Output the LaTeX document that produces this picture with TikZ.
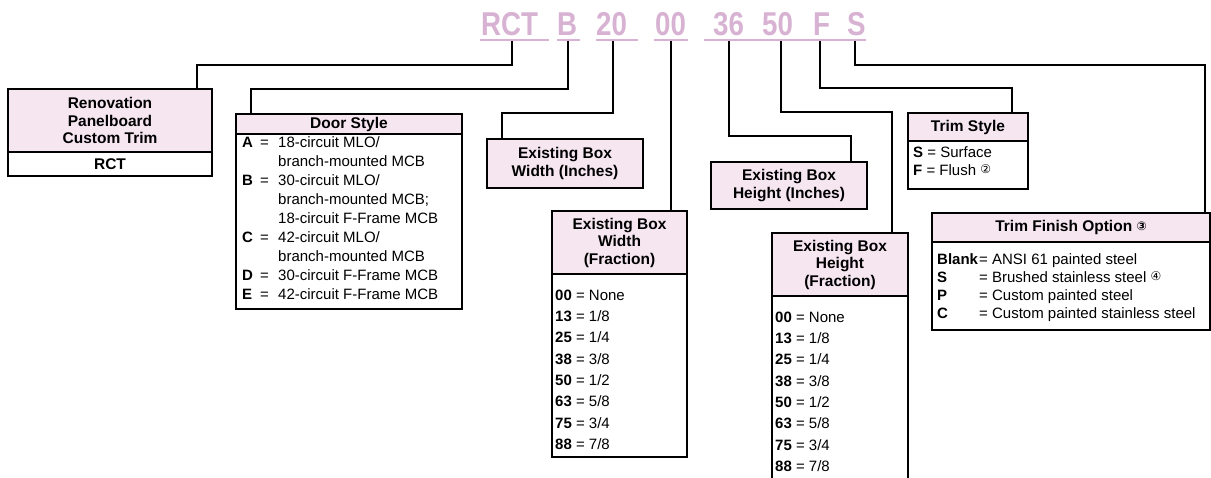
\documentclass[tikz,border=0pt]{standalone}
\usepackage{fontspec}
\setmainfont{Liberation Sans}
\newfontfamily\codefont{Liberation Sans}[FakeStretch=0.84]
\newfontfamily\dvfont{DejaVu Sans}
\definecolor{hdrpink}{RGB}{246,230,240}
\definecolor{codepink}{RGB}{216,178,210}
\newcommand\cnum[1]{\raisebox{1.5pt}{\dvfont\fontsize{12}{12}\selectfont #1}}
\newcommand\dk[1]{\makebox[18pt][l]{\bfseries #1}}
\newcommand\deq{\makebox[18pt][l]{=}}
\newcommand\dind{\hspace*{36pt}}
\newcommand\fk[1]{\makebox[42pt][l]{\bfseries #1}}
\begin{document}
\begin{tikzpicture}[x=1pt,y=-1pt,
  codetxt/.style={anchor=base west, inner sep=0pt, text=codepink, font=\codefont\bfseries\fontsize{33}{33}\selectfont},
  uline/.style={draw=codepink, line width=2pt},
  conn/.style={line width=2pt},
  hbox/.style={draw, line width=1.2pt, fill=hdrpink, anchor=north west, inner sep=0pt, outer sep=0pt, align=center, font=\fontsize{15.5}{17.5}\selectfont\bfseries},
  bbox/.style={draw, line width=1.2pt, fill=white, anchor=north west, inner sep=0pt, outer sep=0pt, font=\fontsize{15.5}{17.5}\selectfont\bfseries},
  listtxt/.style={anchor=base west, inner sep=0pt}]
\clip (0,0) rectangle (1211,478);
\fill[white] (0,0) rectangle (1211,478);

% code letters
\node[codetxt] (cRCT) at (481,36) {RCT};
\node[codetxt] (cB) at (557,36) {B};
\node[codetxt] (c20) at (596,36) {20};
\node[codetxt] (c00) at (655,36) {00};
\node[codetxt] (c36) at (713,36) {36};
\node[codetxt] (c50) at (762,36) {50};
\node[codetxt] (cF) at (813,36) {F};
\node[codetxt] (cS) at (847,36) {S};
\draw[uline] (480,40.5) -- (549,40.5);
\draw[uline] (557,40.5) -- (580,40.5);
\draw[uline] (596,40.5) -- (638,40.5);
\draw[uline] (654,40.5) -- (688,40.5);
\draw[uline] (704,40.5) -- (866,40.5);

% boxes
\node[hbox, minimum width=204pt, minimum height=63pt] (renovH) at (8,89) {Renovation\\Panelboard\\Custom Trim};
\node[bbox, minimum width=204pt, minimum height=24pt] (renovB) at (renovH.south west) {RCT};

\node[hbox, minimum width=226pt, minimum height=20pt] (doorH) at (236,114) {Door Style};
\node[bbox, minimum width=226pt, minimum height=175pt] (doorB) at (doorH.south west) {};
\node[listtxt, font=\fontsize{15}{19}\selectfont] (doorL) at (242,147.4) {\begin{tabular}[t]{@{}l@{}}
\dk{A}\deq 18-circuit MLO/\\
\dind branch-mounted MCB\\
\dk{B}\deq 30-circuit MLO/\\
\dind branch-mounted MCB;\\
\dind 18-circuit F-Frame MCB\\
\dk{C}\deq 42-circuit MLO/\\
\dind branch-mounted MCB\\
\dk{D}\deq 30-circuit F-Frame MCB\\
\dk{E}\deq 42-circuit F-Frame MCB
\end{tabular}};

\node[hbox, minimum width=156pt, minimum height=49pt] (wIn) at (487,139) {Existing Box\\Width (Inches)};

\node[hbox, minimum width=135pt, minimum height=63pt] (wFrH) at (552,211) {Existing Box\\Width\\(Fraction)};
\node[bbox, minimum width=135pt, minimum height=183pt] (wFrB) at (wFrH.south west) {};
\node[listtxt, font=\fontsize{15}{21.3}\selectfont] (wFrL) at (555,300.4) {\begin{tabular}[t]{@{}l@{}}
\textbf{00} = None\\ \textbf{13} = 1/8\\ \textbf{25} = 1/4\\ \textbf{38} = 3/8\\
\textbf{50} = 1/2\\ \textbf{63} = 5/8\\ \textbf{75} = 3/4\\ \textbf{88} = 7/8
\end{tabular}};

\node[hbox, minimum width=156pt, minimum height=47pt] (hIn) at (711,162) {Existing Box\\Height (Inches)};

\node[hbox, minimum width=136pt, minimum height=63pt] (hFrH) at (772,233) {Existing Box\\Height\\(Fraction)};
\node[bbox, minimum width=136pt, minimum height=200pt] (hFrB) at (hFrH.south west) {};
\node[listtxt, font=\fontsize{15}{21.3}\selectfont] (hFrL) at (775,322.4) {\begin{tabular}[t]{@{}l@{}}
\textbf{00} = None\\ \textbf{13} = 1/8\\ \textbf{25} = 1/4\\ \textbf{38} = 3/8\\
\textbf{50} = 1/2\\ \textbf{63} = 5/8\\ \textbf{75} = 3/4\\ \textbf{88} = 7/8
\end{tabular}};

\node[hbox, minimum width=120pt, minimum height=28pt] (tsH) at (908,113) {Trim Style};
\node[bbox, minimum width=120pt, minimum height=48pt] (tsB) at (tsH.south west) {};
\node[listtxt, font=\fontsize{15}{18}\selectfont] (tsL) at (913,157.4) {\begin{tabular}[t]{@{}l@{}}
\textbf{S} = Surface\\ \textbf{F} = Flush \cnum{②}
\end{tabular}};

\node[hbox, minimum width=278pt, minimum height=29pt] (tfH) at (932,213) {Trim Finish Option \cnum{③}};
\node[bbox, minimum width=278pt, minimum height=88pt] (tfB) at (tfH.south west) {};
\node[listtxt, font=\fontsize{15}{18}\selectfont] (tfL) at (937,264.4) {\begin{tabular}[t]{@{}l@{}}
\fk{Blank}= ANSI 61 painted steel\\
\fk{S}= Brushed stainless steel \cnum{④}\\
\fk{P}= Custom painted steel\\
\fk{C}= Custom painted stainless steel
\end{tabular}};

% connector coordinates
\coordinate (tRCT) at (512,41); \coordinate (jRCT) at (197,65);
\coordinate (tB) at (568,41);   \coordinate (jB) at (251,89);
\coordinate (t20) at (613,41);  \coordinate (j20) at (502,113);
\coordinate (t00) at (671,41);
\coordinate (t36) at (729,41);  \coordinate (j36) at (851,136);
\coordinate (t50) at (781,41);  \coordinate (j50) at (892,112);
\coordinate (tF) at (820,41);   \coordinate (jF) at (1012,88);
\coordinate (tS) at (855,41);   \coordinate (jS) at (1205,65);

\draw[conn] (tRCT) |- (jRCT) -- (jRCT |- renovH.north);
\draw[conn] (tB) |- (jB) -- (jB |- doorH.north);
\draw[conn] (t20) |- (j20) -- (j20 |- wIn.north);
\draw[conn] (t00) -- (t00 |- wFrH.north);
\draw[conn] (t36) |- (j36) -- (j36 |- hIn.north);
\draw[conn] (t50) |- (j50) -- (j50 |- hFrH.north);
\draw[conn] (tF) |- (jF) -- (jF |- tsH.north);
\draw[conn] (tS) |- (jS) -- (jS |- tfH.north);
\end{tikzpicture}
\end{document}
